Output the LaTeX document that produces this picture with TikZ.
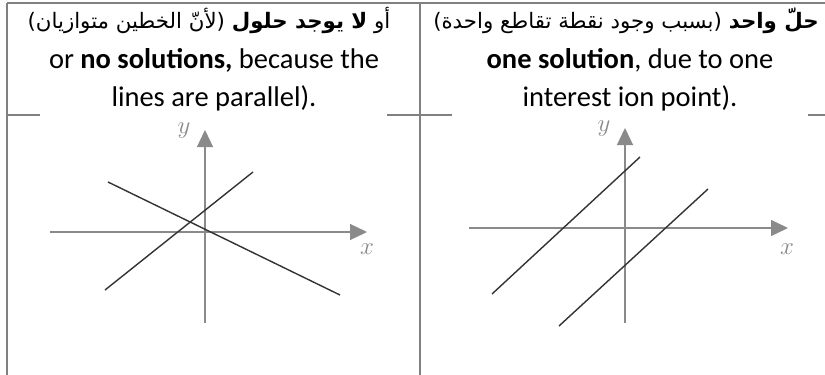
\documentclass[tikz,border=0pt]{standalone}
\usepackage{fontspec}
\setmainfont{Carlito}
\newfontfamily\arabicfont[Script=Arabic]{DejaVu Sans}
\TeXXeTstate=1
\usetikzlibrary{arrows.meta}
\definecolor{bordergray}{HTML}{808080}
\definecolor{axisgray}{HTML}{8A8A8A}
\definecolor{linedark}{HTML}{333333}
\begin{document}
\begin{tikzpicture}[x=1pt,y=-1pt,
  border/.style={draw=bordergray,line width=2pt},
  axis/.style={draw=axisgray,line width=1.3pt,-{Triangle[length=17pt,width=16pt]}},
  graphline/.style={draw=linedark,line width=1.4pt},
  entext/.style={font=\fontsize{28.5}{32}\selectfont,inner sep=0pt,anchor=base},
  artext/.style={font=\arabicfont\fontsize{21.3}{26}\selectfont,inner sep=0pt,anchor=base},
  axlabel/.style={text=axisgray,font=\fontsize{32}{34}\selectfont,inner sep=0pt}]
\useasboundingbox (0,0) rectangle (825,375);
\fill[white] (0,0) rectangle (825,375);
% table borders
\coordinate (tl) at (7,3);
\coordinate (tr) at (825,3);
\coordinate (bl) at (7,375);
\coordinate (dt) at (420,3);
\coordinate (db) at (420,375);
\coordinate (r1a) at (7,115);
\coordinate (r1b) at (40,115);
\coordinate (r2a) at (387,115);
\coordinate (r2b) at (452,115);
\coordinate (r3a) at (808,115);
\coordinate (r3b) at (825,115);
\draw[border] (tl) -- (tr);
\draw[border] (tl) -- (bl);
\draw[border] (dt) -- (db);
\draw[border] (r1a) -- (r1b);
\draw[border] (r2a) -- (r2b);
\draw[border] (r3a) -- (r3b);
% texts left cell
\node[artext] (la) at (209,28) {\beginR أو \textbf{لا يوجد حلول} (لأنّ الخطين متوازيان)\endR};
\node[entext] (lb) at (214,68) {or \textbf{no solutions,} because the};
\node[entext] (lc) at (214,106) {lines are parallel).};
% texts right cell
\node[artext] (ra) at (626,28) {\beginR\textbf{حلّ واحد} (بسبب وجود نقطة تقاطع واحدة)\endR};
\node[entext] (rb) at (630,68) {\textbf{one solution}, due to one};
\node[entext] (rc) at (630,106) {interest ion point).};
% left graph
\coordinate (lx0) at (50,232);
\coordinate (lx1) at (367,232);
\coordinate (ly0) at (205,323);
\coordinate (ly1) at (205,130);
\draw[axis] (lx0) -- (lx1);
\draw[axis] (ly0) -- (ly1);
\node[axlabel] (lylab) at (184,131) {$y$};
\node[axlabel] (lxlab) at (367,249) {$x$};
\coordinate (lp1) at (105,290);
\coordinate (lp2) at (253,172);
\coordinate (lq1) at (108,182);
\coordinate (lq2) at (340,295);
\draw[graphline] (lp1) -- (lp2);
\draw[graphline] (lq1) -- (lq2);
% right graph
\coordinate (rx0) at (469,228);
\coordinate (rx1) at (788,228);
\coordinate (ry0) at (625,323);
\coordinate (ry1) at (625,128);
\draw[axis] (rx0) -- (rx1);
\draw[axis] (ry0) -- (ry1);
\node[axlabel] (rylab) at (604,129) {$y$};
\node[axlabel] (rxlab) at (787,249) {$x$};
\coordinate (ra1) at (492,294);
\coordinate (ra2) at (640,157);
\coordinate (rb1) at (559,326);
\coordinate (rb2) at (708,189);
\draw[graphline] (ra1) -- (ra2);
\draw[graphline] (rb1) -- (rb2);
\end{tikzpicture}
\end{document}
